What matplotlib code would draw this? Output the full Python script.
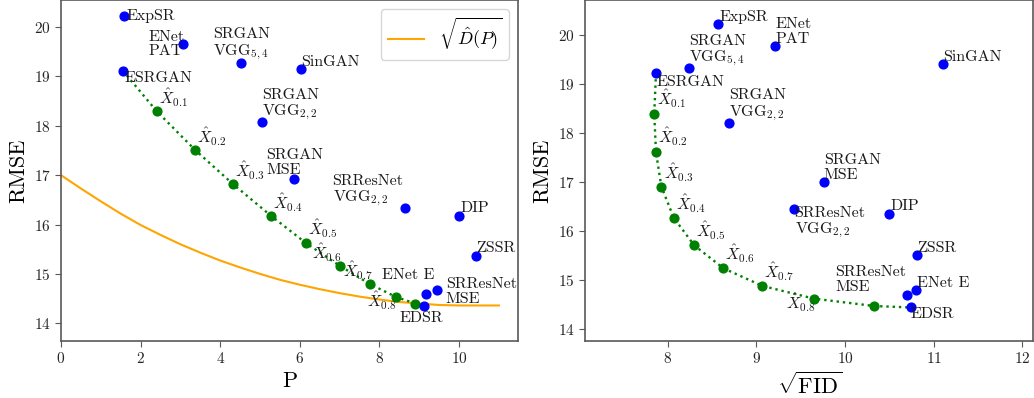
import numpy as np
import matplotlib
matplotlib.use('Agg')
import matplotlib.pyplot as plt

plt.rcParams['font.family'] = 'serif'
plt.rcParams['font.serif'] = ['cmr10']
plt.rcParams['mathtext.fontset'] = 'cm'
plt.rcParams['axes.formatter.use_mathtext'] = True
plt.rcParams['axes.unicode_minus'] = False

# --- data ---
methods = ['ExpSR', 'ENet\nPAT', 'SRGAN\nVGG$_{5,4}$', 'SinGAN', 'ESRGAN',
           'SRGAN\nVGG$_{2,2}$', 'SRGAN\nMSE', 'SRResNet\nVGG$_{2,2}$', 'DIP',
           'ZSSR', 'ENet E', 'SRResNet\nMSE', 'EDSR']

# left panel: perception index vs RMSE
p_vals = [1.59, 3.07, 4.52, 6.04, 1.55, 5.06, 5.85, 8.63, 10.00, 10.43, 9.16, 9.44, 9.12]
rmse_left = [20.22, 19.65, 19.28, 19.15, 19.12, 18.07, 16.92, 16.33, 16.18, 15.36, 14.60, 14.67, 14.34]

# right panel: sqrt(FID) vs RMSE
right_order = ['ExpSR', 'ENet\nPAT', 'SinGAN', 'SRGAN\nVGG$_{5,4}$', 'ESRGAN',
               'SRGAN\nVGG$_{2,2}$', 'SRGAN\nMSE', 'SRResNet\nVGG$_{2,2}$', 'DIP',
               'ZSSR', 'ENet E', 'SRResNet\nMSE', 'EDSR']
sqrt_fid = [8.57, 9.21, 11.10, 8.24, 7.87, 8.69, 9.76, 9.42, 10.50, 10.81, 10.80, 10.70, 10.74]
rmse_right = [20.23, 19.78, 19.42, 19.33, 19.23, 18.21, 17.00, 16.45, 16.35, 15.52, 14.79, 14.70, 14.44]

# interpolation between ESRGAN (alpha=0) and EDSR (alpha=1)
alphas = [0.0, 0.1, 0.2, 0.3, 0.4, 0.5, 0.6, 0.7, 0.8, 0.9, 1.0]
interp_p = [1.55, 2.40, 3.37, 4.32, 5.27, 6.16, 7.01, 7.77, 8.42, 8.90, 9.12]
interp_rmse_left = [19.12, 18.30, 17.51, 16.82, 16.18, 15.62, 15.16, 14.79, 14.53, 14.40, 14.34]
interp_fid = [7.87, 7.85, 7.87, 7.93, 8.07, 8.30, 8.63, 9.07, 9.65, 10.33, 10.74]
interp_rmse_right = [19.23, 18.39, 17.61, 16.91, 16.27, 15.71, 15.24, 14.88, 14.62, 14.47, 14.44]

# bound curve sqrt(D(P))
bound_p = [0, 0.5, 1, 1.5, 2, 2.5, 3, 3.5, 4, 4.5, 5, 5.5, 6, 6.5, 7, 7.5, 8,
           8.5, 9, 9.5, 10, 10.5, 11]
bound_rmse = [17.0, 16.73, 16.47, 16.22, 15.99, 15.79, 15.60, 15.43, 15.27, 15.13,
              15.00, 14.88, 14.78, 14.69, 14.61, 14.54, 14.48, 14.43, 14.40, 14.37,
              14.36, 14.36, 14.36]

# label offsets in pixels (dx, dy up), per panel
left_offsets = {'ExpSR': (2, -7), 'ENet\nPAT': (-35, -14), 'SRGAN\nVGG$_{5,4}$': (-28, 1),
                'SinGAN': (0, 0), 'ESRGAN': (2, -14), 'SRGAN\nVGG$_{2,2}$': (0, 0),
                'SRGAN\nMSE': (-28, 2), 'SRResNet\nVGG$_{2,2}$': (-72, 0), 'DIP': (1, 1),
                'ZSSR': (0, 1), 'ENet E': (-44, 12), 'SRResNet\nMSE': (9, -16),
                'EDSR': (-25, -19)}
right_offsets = {'ExpSR': (1, 0), 'ENet\nPAT': (1, 0), 'SinGAN': (1, 0),
                 'SRGAN\nVGG$_{5,4}$': (0, 0), 'ESRGAN': (1, -16), 'SRGAN\nVGG$_{2,2}$': (0, 0),
                 'SRGAN\nMSE': (0, 0), 'SRResNet\nVGG$_{2,2}$': (1, -31), 'DIP': (1, 1),
                 'ZSSR': (0, 0), 'ENet E': (1, 0), 'SRResNet\nMSE': (-72, 1), 'EDSR': (0, -14)}
left_alpha_offsets = [(2, 2), (2, 2), (2, 2), (2, 2), (2, 3), (-28, 2), (-27, 2), (-29, -15)]
right_alpha_offsets = [(3, 4), (2, 4), (3, 3), (2, 3), (2, 3), (2, 3), (2, 3), (-28, -15)]

fig = plt.figure(figsize=(10.34, 3.98), dpi=100)
ax1 = fig.add_axes([0.059, 0.1432, 0.442, 0.8568])
ax2 = fig.add_axes([0.5658, 0.1432, 0.4333, 0.8568])

spine_col = '0.35'


def style_axis(ax):
    for s in ax.spines.values():
        s.set_color(spine_col)
        s.set_linewidth(1.2)
    ax.tick_params(colors=spine_col, labelcolor='0.15', labelsize=11, length=4)


def draw_panel(ax, names, xs, ys, offsets, ix, iy, ioffs):
    ax.plot(ix, iy, ':', color='green', linewidth=1.7, zorder=2)
    ax.scatter(ix[1:-1], iy[1:-1], color='green', s=40, zorder=3)
    ax.scatter(xs, ys, color='blue', s=40, zorder=3)
    for name, x, y in zip(names, xs, ys):
        dx, dy = offsets[name]
        ax.annotate(name, (x, y), xytext=(dx, dy), textcoords='offset pixels',
                    ha='left', va='bottom', fontsize=11.5, color='0.1',
                    linespacing=1.1)
    for a, x, y, (dx, dy) in zip(alphas[1:9], ix[1:9], iy[1:9], ioffs):
        ax.annotate(r'$\hat{X}_{%.1f}$' % a, (x, y), xytext=(dx, dy),
                    textcoords='offset pixels', ha='left', va='bottom',
                    fontsize=11.5, color='0.1')


draw_panel(ax1, methods, p_vals, rmse_left, left_offsets,
           interp_p, interp_rmse_left, left_alpha_offsets)
ax1.plot(bound_p, bound_rmse, color='orange', linewidth=1.5,
         label=r'$\sqrt{\hat{D}(P)}$', zorder=1)
ax1.legend(loc='upper right', fontsize=13, borderpad=0.4)
ax1.set_xlim(0, 11.48)
ax1.set_ylim(13.64, 20.55)
ax1.set_xticks([0, 2, 4, 6, 8, 10])
ax1.set_xlabel('P', fontsize=16)
ax1.set_ylabel('RMSE', fontsize=16)
style_axis(ax1)

draw_panel(ax2, right_order, sqrt_fid, rmse_right, right_offsets,
           interp_fid, interp_rmse_right, right_alpha_offsets)
ax2.set_xlim(7.07, 12.12)
ax2.set_ylim(13.755, 20.72)
ax2.set_xticks([8, 9, 10, 11, 12])
ax2.set_xlabel(r'$\sqrt{\rm FID}$', fontsize=16)
ax2.set_ylabel('RMSE', fontsize=16)
style_axis(ax2)

fig.savefig('out.png', dpi=100)
